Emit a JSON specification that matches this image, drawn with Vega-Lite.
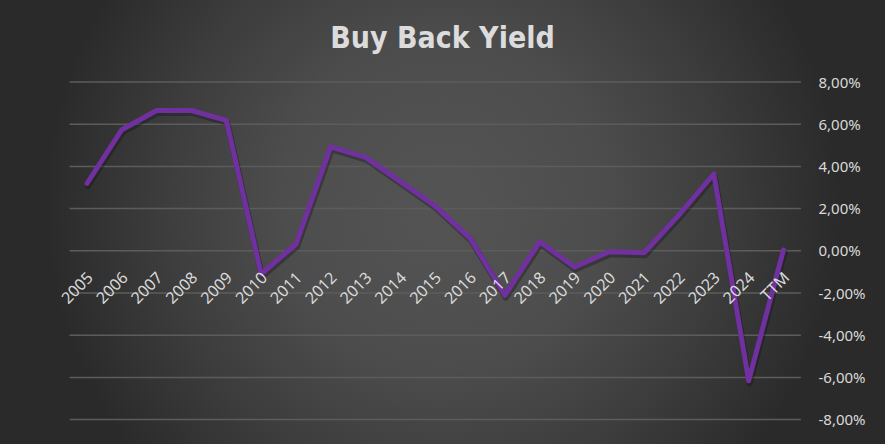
{
  "$schema": "https://vega.github.io/schema/vega-lite/v6.json",
  "width": 885,
  "height": 444,
  "autosize": {"type": "fit", "contains": "padding"},
  "padding": 0,
  "background": "#2a2a2a",
  "title": {
    "text": "Buy Back Yield",
    "font": "DejaVu Sans Condensed, DejaVu Sans",
    "fontSize": 30,
    "fontWeight": "bold",
    "color": "#dcdcdc",
    "anchor": "middle",
    "frame": "group",
    "baseline": "alphabetic",
    "offset": -78
  },
  "config": {"view": {"stroke": null}},
  "datasets": {
    "yields": [
      {"year": "2005", "yield": 3.19},
      {"year": "2006", "yield": 5.74},
      {"year": "2007", "yield": 6.65},
      {"year": "2008", "yield": 6.65},
      {"year": "2009", "yield": 6.18},
      {"year": "2010", "yield": -1.10},
      {"year": "2011", "yield": 0.31},
      {"year": "2012", "yield": 4.93},
      {"year": "2013", "yield": 4.43},
      {"year": "2014", "yield": 3.28},
      {"year": "2015", "yield": 2.12},
      {"year": "2016", "yield": 0.60},
      {"year": "2017", "yield": -2.10},
      {"year": "2018", "yield": 0.43},
      {"year": "2019", "yield": -0.77},
      {"year": "2020", "yield": -0.04},
      {"year": "2021", "yield": -0.09},
      {"year": "2022", "yield": 1.70},
      {"year": "2023", "yield": 3.64},
      {"year": "2024", "yield": -6.16},
      {"year": "TTM", "yield": 0.04}
    ],
    "gridTicks": [
      {"tick": -8}, {"tick": -6}, {"tick": -4}, {"tick": -2}, {"tick": 0},
      {"tick": 2}, {"tick": 4}, {"tick": 6}, {"tick": 8}
    ],
    "bg": [{"panel": "chart"}]
  },
  "layer": [
    {
      "data": {"name": "bg"},
      "mark": {
        "type": "rect",
        "fill": {
          "gradient": "radial",
          "x1": 0.5, "y1": 0.48, "r1": 0,
          "x2": 0.5, "y2": 0.48, "r2": 0.45,
          "stops": [
            {"offset": 0, "color": "#545454"},
            {"offset": 0.4, "color": "#4d4d4d"},
            {"offset": 0.7, "color": "#3d3d3d"},
            {"offset": 1, "color": "#2a2a2a"}
          ]
        }
      },
      "encoding": {}
    },
    {
      "data": {"name": "gridTicks"},
      "mark": {"type": "rule", "color": "#5c5c5c", "strokeWidth": 1.5, "xOffset": -17.4, "x2Offset": 17.4},
      "encoding": {
        "x": {
          "datum": "2005", "type": "nominal",
          "scale": {"type": "point", "domain": ["2005","2006","2007","2008","2009","2010","2011","2012","2013","2014","2015","2016","2017","2018","2019","2020","2021","2022","2023","2024","TTM"], "range": [87, 783.5], "padding": 0},
          "axis": {"title": null, "orient": "bottom", "offset": -193.2, "zindex": 1, "domain": false, "ticks": false, "grid": false, "labelAngle": -45, "labelAlign": "right", "labelBaseline": "middle", "labelPadding": 24, "labelOffset": 3, "labelFont": "Noto Sans", "labelFontSize": 16, "labelColor": "#d9d9d9", "labelOverlap": false}
        },
        "x2": {"datum": "TTM"},
        "y": {
          "field": "tick", "type": "quantitative",
          "scale": {"domain": [-8, 8], "range": [419.6, 82], "nice": false, "zero": false},
          "axis": {"title": null, "orient": "right", "offset": -85, "zindex": 1, "values": [-8, -6, -4, -2, 0, 2, 4, 6, 8], "domain": false, "ticks": false, "grid": false, "labelAlign": "left", "labelPadding": 18, "labelFont": "Noto Sans", "labelFontSize": 15, "labelColor": "#d9d9d9", "labelExpr": "replace(replace(format(datum.value, '.2f'), '.', ','), '\u2212', '-') + '%'"}
        }
      }
    },
    {
      "data": {"name": "yields"},
      "mark": {"type": "line", "color": "#111111", "opacity": 0.35, "strokeWidth": 6, "yOffset": 2.5, "xOffset": 1, "strokeJoin": "round", "strokeCap": "round"},
      "encoding": {
        "x": {
          "field": "year", "type": "nominal", "sort": null,
          "scale": {"type": "point", "domain": ["2005","2006","2007","2008","2009","2010","2011","2012","2013","2014","2015","2016","2017","2018","2019","2020","2021","2022","2023","2024","TTM"], "range": [87, 783.5], "padding": 0},
          "axis": {"title": null, "orient": "bottom", "offset": -193.2, "zindex": 1, "domain": false, "ticks": false, "grid": false, "labelAngle": -45, "labelAlign": "right", "labelBaseline": "middle", "labelPadding": 24, "labelOffset": 3, "labelFont": "Noto Sans", "labelFontSize": 16, "labelColor": "#d9d9d9", "labelOverlap": false}
        },
        "y": {
          "field": "yield", "type": "quantitative",
          "scale": {"domain": [-8, 8], "range": [419.6, 82], "nice": false, "zero": false},
          "axis": {"title": null, "orient": "right", "offset": -85, "zindex": 1, "values": [-8, -6, -4, -2, 0, 2, 4, 6, 8], "domain": false, "ticks": false, "grid": false, "labelAlign": "left", "labelPadding": 18, "labelFont": "Noto Sans", "labelFontSize": 15, "labelColor": "#d9d9d9", "labelExpr": "replace(replace(format(datum.value, '.2f'), '.', ','), '\u2212', '-') + '%'"}
        }
      }
    },
    {
      "data": {"name": "yields"},
      "mark": {"type": "line", "color": "#7030a0", "strokeWidth": 5, "strokeJoin": "round", "strokeCap": "round"},
      "encoding": {
        "x": {
          "field": "year", "type": "nominal", "sort": null,
          "scale": {"type": "point", "domain": ["2005","2006","2007","2008","2009","2010","2011","2012","2013","2014","2015","2016","2017","2018","2019","2020","2021","2022","2023","2024","TTM"], "range": [87, 783.5], "padding": 0},
          "axis": {"title": null, "orient": "bottom", "offset": -193.2, "zindex": 1, "domain": false, "ticks": false, "grid": false, "labelAngle": -45, "labelAlign": "right", "labelBaseline": "middle", "labelPadding": 24, "labelOffset": 3, "labelFont": "Noto Sans", "labelFontSize": 16, "labelColor": "#d9d9d9", "labelOverlap": false}
        },
        "y": {
          "field": "yield", "type": "quantitative",
          "scale": {"domain": [-8, 8], "range": [419.6, 82], "nice": false, "zero": false},
          "axis": {"title": null, "orient": "right", "offset": -85, "zindex": 1, "values": [-8, -6, -4, -2, 0, 2, 4, 6, 8], "domain": false, "ticks": false, "grid": false, "labelAlign": "left", "labelPadding": 18, "labelFont": "Noto Sans", "labelFontSize": 15, "labelColor": "#d9d9d9", "labelExpr": "replace(replace(format(datum.value, '.2f'), '.', ','), '\u2212', '-') + '%'"}
        }
      }
    }
  ]
}
